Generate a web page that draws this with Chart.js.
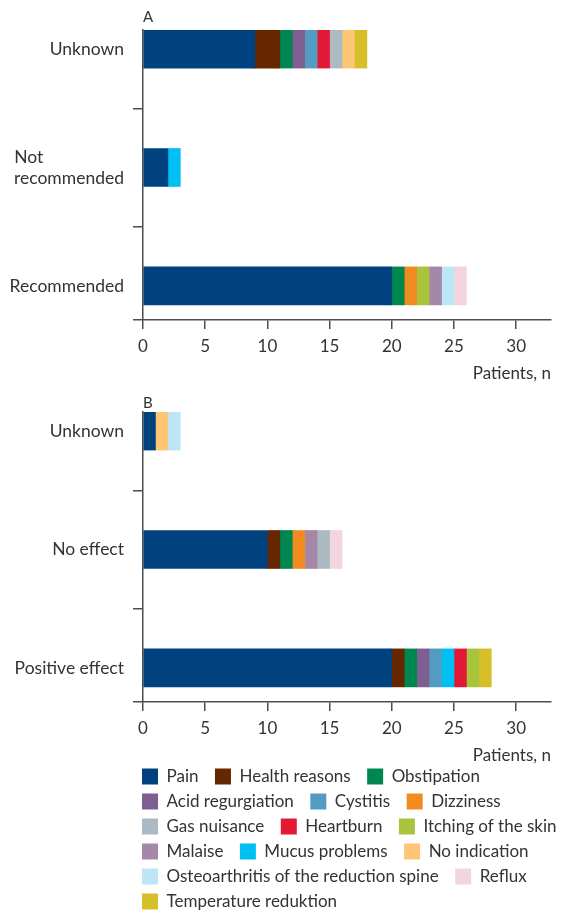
<!DOCTYPE html>
<html>
<head>
<meta charset="utf-8">
<script src="https://cdn.jsdelivr.net/npm/chart.js@4.4.1/dist/chart.umd.min.js"></script>
<style>
  html, body { margin: 0; padding: 0; background: #fff; width: 565px; height: 914px; overflow: hidden; position: relative; }
  canvas { position: absolute; left: 0; display: block; }
  #chartA { top: 0; }
  #chartB { top: 382px; }
  #legendChart { top: 760px; }
</style>
</head>
<body>
<canvas id="chartA" width="565" height="382"></canvas>
<canvas id="chartB" width="565" height="382"></canvas>
<canvas id="legendChart" width="615" height="330"></canvas>
<script>
// Reasons reported, in legend order
const symptoms = [
  'Pain', 'Health reasons', 'Obstipation', 'Acid regurgiation', 'Cystitis',
  'Dizziness', 'Gas nuisance', 'Heartburn', 'Itching of the skin', 'Malaise',
  'Mucus problems', 'No indication', 'Osteoarthritis of the reduction spine',
  'Reflux', 'Temperature reduktion'
];
const symptomColors = [
  '#00427f', '#662700', '#00874f', '#7f5f92', '#529cc4',
  '#f28c20', '#adbac4', '#e31837', '#a8c43c', '#a588a8',
  '#00bff3', '#fdc674', '#bde5f8', '#f3d5e0', '#d6bf28'
];
// Order in which the segments are stacked along each bar (indices into symptoms)
const stackOrder = [0, 1, 2, 3, 4, 5, 10, 7, 8, 9, 6, 11, 12, 13, 14];

// Panel A: recommendation
const categoriesA = ['Unknown', ['Not', 'recommended'], 'Recommended'];
const unknownA        = [9, 2, 1, 1, 1, 0, 1, 1, 0, 0, 0, 1, 0, 0, 1];
const notRecommendedA = [2, 0, 0, 0, 0, 0, 0, 0, 0, 0, 1, 0, 0, 0, 0];
const recommendedA    = [20, 0, 1, 0, 0, 1, 0, 0, 1, 1, 0, 0, 1, 1, 0];

// Panel B: effect
const categoriesB = ['Unknown', 'No effect', 'Positive effect'];
const unknownB        = [1, 0, 0, 0, 0, 0, 0, 0, 0, 0, 0, 1, 1, 0, 0];
const noEffectB       = [10, 1, 1, 0, 0, 1, 1, 0, 0, 1, 0, 0, 0, 1, 0];
const positiveEffectB = [20, 1, 1, 1, 1, 0, 0, 1, 1, 0, 1, 0, 0, 0, 1];

const xTicks = [0, 5, 10, 15, 20, 25, 30];
const axisTitle = 'Patients, n';

const FONT = 'Lato';
const TEXT = '#333333';
const AXIS = '#4d4d4d';
const LABEL_SIZE = 17.5;
const TICK_SIZE = 17;
Chart.defaults.font.family = FONT;
Chart.defaults.color = TEXT;

// Multi-line labels are right-aligned as a block: pad the shorter lines so all lines start at the same x
function blockLabel(label, size) {
  if (!Array.isArray(label)) return label;
  const ctx = document.createElement('canvas').getContext('2d');
  ctx.font = size + 'px ' + FONT;
  const widths = label.map(l => ctx.measureText(l).width);
  const widest = Math.max(...widths);
  const space = ctx.measureText(' ').width;
  return label.map((l, i) => l + ' '.repeat(Math.round((widest - widths[i]) / space)));
}

const isWhole = c => !!(c && c.tick && Number.isInteger(c.tick.value));

function buildPanel(canvasId, panelLetter, categories, rows, titlePad) {
  const datasets = stackOrder.map(i => ({
    label: symptoms[i],
    data: rows.map(r => (r[i] ? r[i] : null)),
    backgroundColor: symptomColors[i],
    borderWidth: 0,
    barThickness: 38
  }));
  const labels = categories.map((c, k) => k);
  const yMin = -0.161, yMax = 2.288;

  return new Chart(document.getElementById(canvasId), {
    type: 'bar',
    data: { labels, datasets },
    options: {
      indexAxis: 'y',
      responsive: false,
      animation: false,
      events: [],
      layout: { padding: { left: 0, right: 14, top: 0, bottom: 0 } },
      plugins: {
        legend: { display: false },
        tooltip: { enabled: false },
        title: {
          display: true,
          text: panelLetter,
          align: 'start',
          fullSize: false,
          color: TEXT,
          font: { size: 15, weight: 'normal' },
          padding: titlePad
        }
      },
      scales: {
        x: {
          type: 'linear',
          stacked: true,
          min: 0,
          max: 32.8,
          afterBuildTicks: s => { s.ticks = xTicks.map(v => ({ value: v })); },
          ticks: { color: TEXT, font: { size: TICK_SIZE }, padding: 7, maxRotation: 0, autoSkip: false },
          grid: { drawOnChartArea: false, drawTicks: true, tickLength: 9, color: AXIS, lineWidth: 1.5 },
          border: { display: true, color: AXIS, width: 1.5 },
          title: {
            display: true, text: axisTitle, align: 'end', color: TEXT,
            font: { size: TICK_SIZE }, padding: { top: 0.4, bottom: -2.2 }
          }
        },
        y: {
          type: 'linear',
          stacked: true,
          reverse: true,
          offset: false,
          min: yMin,
          max: yMax,
          // category labels at whole values, separator marks halfway between them and at the base
          afterBuildTicks: s => {
            s.ticks = [0, 0.5, 1, 1.5, 2, yMax].map(v => ({ value: v }));
          },
          afterFit: s => { s.width = 143; },
          ticks: {
            color: TEXT,
            font: { size: LABEL_SIZE },
            padding: 9,
            autoSkip: false,
            callback: v => (Number.isInteger(v) ? blockLabel(categories[v], LABEL_SIZE) : '')
          },
          grid: {
            offset: false,
            drawOnChartArea: false,
            drawTicks: true,
            tickLength: 10,
            lineWidth: 1.5,
            color: AXIS,
            tickColor: c => (isWhole(c) ? 'rgba(0,0,0,0)' : AXIS)
          },
          border: { display: true, color: AXIS, width: 1.5 }
        }
      }
    }
  });
}

buildPanel('chartA', 'A', categoriesA, [unknownA, notRecommendedA, recommendedA], { top: 8.5, bottom: 3.5 });
buildPanel('chartB', 'B', categoriesB, [unknownB, noEffectB, positiveEffectB], { top: 12, bottom: 0 });

// Shared legend for both panels
const legendFontSize = 17;
new Chart(document.getElementById('legendChart'), {
  type: 'bar',
  data: {
    labels: [],
    datasets: symptoms.map((s, i) => ({ label: s, data: [], backgroundColor: symptomColors[i], borderWidth: 0 }))
  },
  options: {
    responsive: false,
    animation: false,
    events: [],
    layout: { padding: { left: 134, right: 0, top: 0, bottom: 0 } },
    plugins: {
      tooltip: { enabled: false },
      legend: {
        position: 'top',
        align: 'start',
        labels: {
          boxWidth: 16,
          boxHeight: 16,
          padding: 8,
          color: TEXT,
          font: { size: legendFontSize },
          // an en space after each entry widens the gap to the next swatch
          generateLabels: chart =>
            Chart.defaults.plugins.legend.labels.generateLabels(chart).map(item => ({ ...item, text: item.text + '\u2002' }))
        }
      }
    },
    scales: { x: { display: false }, y: { display: false } }
  }
});
</script>
</body>
</html>
